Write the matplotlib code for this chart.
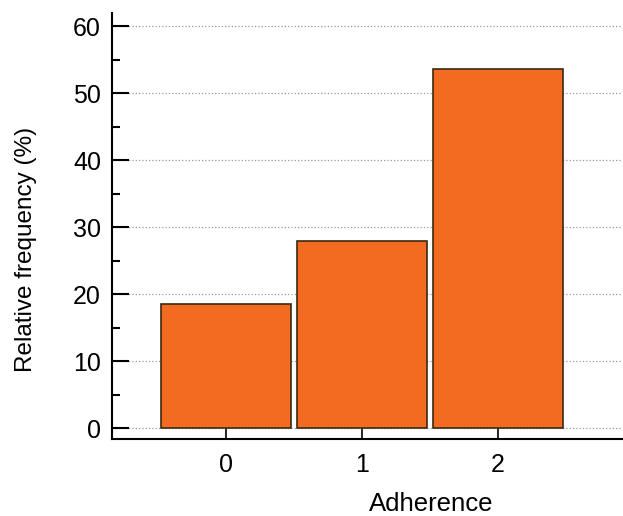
import numpy as np
import matplotlib.pyplot as plt

# datos
categorias = [0, 1, 2]
frecuencia = [18.5, 27.9, 53.7]
yticks = [0, 10, 20, 30, 40, 50, 60]

plt.rcParams['font.family'] = ['Liberation Sans', 'DejaVu Sans']

fig = plt.figure(figsize=(6.23, 5.16), dpi=100)
ax = fig.add_axes([0.18, 0.149, 0.818, 0.826])

ax.bar(categorias, frecuencia, width=0.955, color='#F26B21',
       edgecolor='#3a2a12', linewidth=1.2, zorder=3)

ax.set_xlim(-0.84, 2.91)
ax.set_ylim(-1.6, 62)
ax.set_xticks(categorias)
ax.set_yticks(yticks)
ax.set_yticks(np.arange(5, 60, 10), minor=True)

ax.yaxis.grid(True, linestyle=':', color='#999999', linewidth=0.9, zorder=0)

for lado in ['top', 'right']:
    ax.spines[lado].set_visible(False)
ax.spines['left'].set_linewidth(1.5)
ax.spines['bottom'].set_linewidth(1.5)

ax.tick_params(axis='y', which='major', direction='in', length=12, width=1.5,
               labelsize=18, pad=8)
ax.tick_params(axis='y', which='minor', direction='in', length=6, width=1.5)
ax.tick_params(axis='x', which='major', direction='in', length=9, width=1.2,
               labelsize=18, pad=10)

ax.set_ylabel('Relative frequency (%)', fontsize=17.5)
ax.set_xlabel('Adherence', fontsize=18.5)
ax.yaxis.set_label_coords(-0.147, 0.446)
ax.xaxis.set_label_coords(0.626, -0.125)

fig.savefig('out.png', dpi=100)
